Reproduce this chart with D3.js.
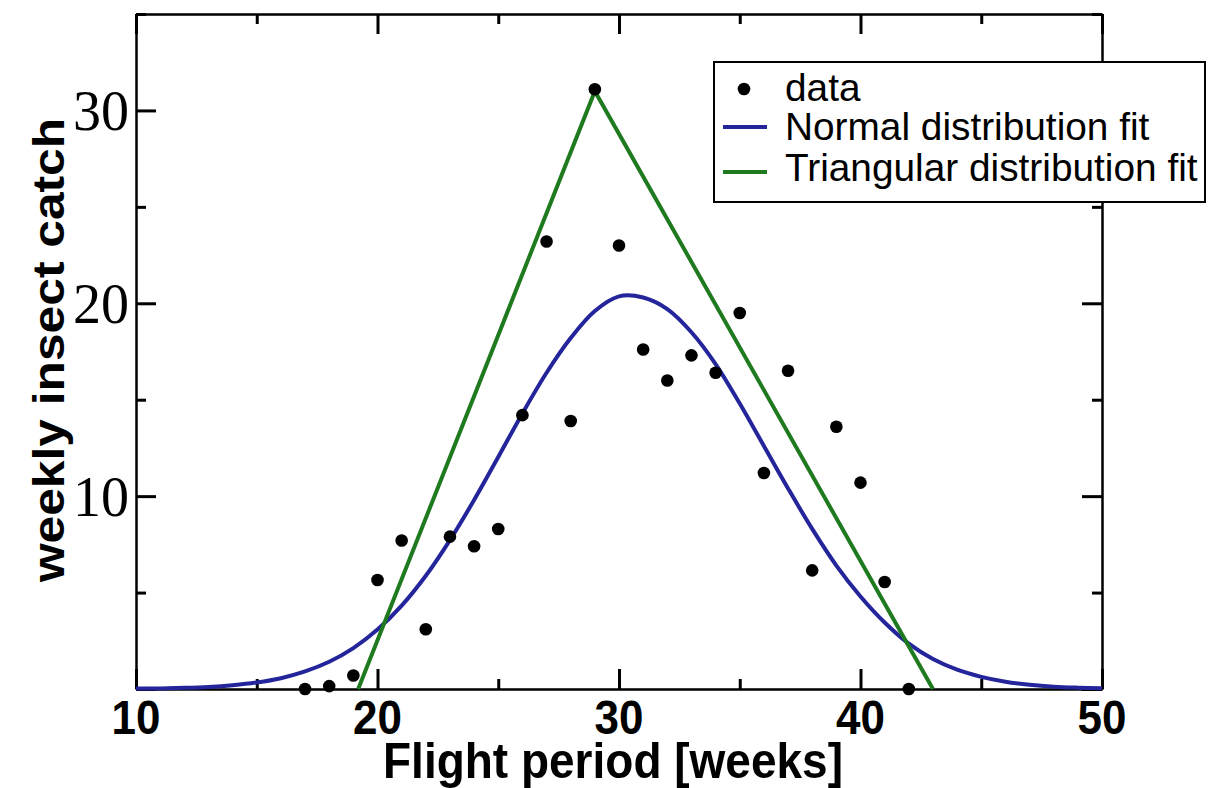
<!DOCTYPE html>
<html>
<head>
<meta charset="utf-8">
<script src="https://cdn.jsdelivr.net/npm/d3@7"></script>
<style>
  html, body { margin: 0; padding: 0; background: #fff; }
  svg { display: block; }
</style>
</head>
<body>
<svg id="chart" width="1213" height="788"></svg>
<script>
// ---- data ----
const weeks = [17,18,19,20,21,22,23,24,25,26,27,28,29,30,31,32,33,34,35,36,37,38,39,40,41,42];
const weeklyCatch = [0,0.15,0.7,5.65,7.7,3.1,7.9,7.4,8.3,14.2,23.2,13.9,31.1,23.0,17.6,16.0,17.3,16.4,19.5,11.2,16.5,6.15,13.6,10.7,5.55,0];

const normalWeeks = [10,11,12,13,14,15,16,17,18,19,20,21,22,23,24,25,26,27,28,29,30,31,32,33,34,35,36,37,38,39,40,41,42,43,44,45,46,47,48,49,50];
const normalFit = [0.02,0.03,0.06,0.11,0.2,0.34,0.56,0.91,1.41,2.12,3.08,4.32,5.87,7.72,9.8,12.03,14.29,16.4,18.2,19.6,20.36,20.3,19.7,18.5,16.85,14.8,12.6,10.4,8.3,6.4,4.8,3.45,2.35,1.55,1.0,0.63,0.38,0.22,0.12,0.07,0.04];

const triWeeks = [19.2, 29, 43.0];
const triFit = [0, 31.0, 0];

const xMajor = [10,20,30,40,50];
const xMinor = [15,25,35,45];
const yMajor = [0,10,20,30];
const yMinor = [5,15,25,35];
const yLabels = [10,20,30];

const legendItems = ["data", "Normal distribution fit", "Triangular distribution fit"];
const blue = "#24249b";
const green = "#1f7a1f";

// ---- drawing ----
const svg = d3.select("#chart");
const x = d3.scaleLinear().domain([10,50]).range([136,1102]);
const y = d3.scaleLinear().domain([0,35]).range([689,14]);

function styleAxis(g, w) {
  g.select(".domain").attr("stroke", "#000").attr("stroke-width", 2);
  g.selectAll(".tick line").attr("stroke", "#000").attr("stroke-width", w);
  g.selectAll(".tick text").remove();
}
// bottom
svg.append("g").attr("transform", `translate(0,${y(0)})`)
  .call(d3.axisBottom(x).tickValues(xMajor).tickSize(-20).tickSizeOuter(0)).call(g => styleAxis(g,3));
svg.append("g").attr("transform", `translate(0,${y(0)})`)
  .call(d3.axisBottom(x).tickValues(xMinor).tickSize(-10).tickSizeOuter(0)).call(g => styleAxis(g,3));
// top
svg.append("g").attr("transform", `translate(0,${y(35)})`)
  .call(d3.axisTop(x).tickValues(xMajor).tickSize(-20).tickSizeOuter(0)).call(g => styleAxis(g,3));
svg.append("g").attr("transform", `translate(0,${y(35)})`)
  .call(d3.axisTop(x).tickValues(xMinor).tickSize(-10).tickSizeOuter(0)).call(g => styleAxis(g,3));
// left
svg.append("g").attr("transform", `translate(${x(10)},0)`)
  .call(d3.axisLeft(y).tickValues(yMajor).tickSize(-20).tickSizeOuter(0)).call(g => styleAxis(g,3));
svg.append("g").attr("transform", `translate(${x(10)},0)`)
  .call(d3.axisLeft(y).tickValues(yMinor).tickSize(-10).tickSizeOuter(0)).call(g => styleAxis(g,3));
// right
svg.append("g").attr("transform", `translate(${x(50)},0)`)
  .call(d3.axisRight(y).tickValues(yMajor).tickSize(-20).tickSizeOuter(0)).call(g => styleAxis(g,3));
svg.append("g").attr("transform", `translate(${x(50)},0)`)
  .call(d3.axisRight(y).tickValues(yMinor).tickSize(-10).tickSizeOuter(0)).call(g => styleAxis(g,3));

// x tick labels
svg.append("g").selectAll("text").data(xMajor).join("text")
  .attr("transform", d => `translate(${x(d)},734) scale(1,1.1)`)
  .attr("text-anchor", "middle")
  .attr("font-family", "'Liberation Sans', Arial, sans-serif")
  .attr("font-weight", "bold").attr("font-size", 44)
  .text(d => d);

// y tick labels
svg.append("g").selectAll("text").data(yLabels).join("text")
  .attr("x", 129).attr("y", d => y(d) + 20)
  .attr("text-anchor", "end")
  .attr("font-family", "'Liberation Serif', 'Times New Roman', serif")
  .attr("font-size", 56)
  .text(d => d);

// axis titles
svg.append("text")
  .attr("transform", "translate(613,778) scale(1,1.1)")
  .attr("text-anchor", "middle")
  .attr("font-family", "'Liberation Sans', Arial, sans-serif")
  .attr("font-weight", "bold").attr("font-size", 46)
  .text("Flight period [weeks]");

svg.append("text")
  .attr("transform", "translate(64,350) rotate(-90) scale(1.13,1)")
  .attr("text-anchor", "middle")
  .attr("font-family", "'Liberation Sans', Arial, sans-serif")
  .attr("font-weight", "bold").attr("font-size", 44)
  .text("weekly insect catch");

// curves
const normalLine = d3.line().x((d,i) => x(normalWeeks[i])).y(d => y(d)).curve(d3.curveCatmullRom);
svg.append("path").datum(normalFit)
  .attr("d", normalLine).attr("fill", "none").attr("stroke", blue).attr("stroke-width", 4);

const triLine = d3.line().x((d,i) => x(triWeeks[i])).y(d => y(d));
svg.append("path").datum(triFit)
  .attr("d", triLine).attr("fill", "none").attr("stroke", green).attr("stroke-width", 4)
  .attr("stroke-linejoin", "miter");

// data points
svg.append("g").selectAll("circle").data(weeklyCatch).join("circle")
  .attr("cx", (d,i) => x(weeks[i])).attr("cy", d => y(d)).attr("r", 6.3).attr("fill", "#000");

// legend
const lg = svg.append("g");
lg.append("rect").attr("x", 714).attr("y", 62).attr("width", 491).attr("height", 140)
  .attr("fill", "#fff").attr("stroke", "#000").attr("stroke-width", 2);
const rowY = [101, 140, 181];
const symY = [89, 127, 172];
lg.append("circle").attr("cx", 744).attr("cy", symY[0]).attr("r", 6.3).attr("fill", "#000");
lg.append("line").attr("x1", 723).attr("x2", 767).attr("y1", symY[1]).attr("y2", symY[1])
  .attr("stroke", blue).attr("stroke-width", 4);
lg.append("line").attr("x1", 723).attr("x2", 767).attr("y1", symY[2]).attr("y2", symY[2])
  .attr("stroke", green).attr("stroke-width", 4);
lg.selectAll("text.lt").data(legendItems).join("text").attr("class", "lt")
  .attr("x", 785).attr("y", (d,i) => rowY[i])
  .attr("font-family", "'Liberation Sans', Arial, sans-serif")
  .attr("font-size", 38.8)
  .text(d => d);
</script>
</body>
</html>
